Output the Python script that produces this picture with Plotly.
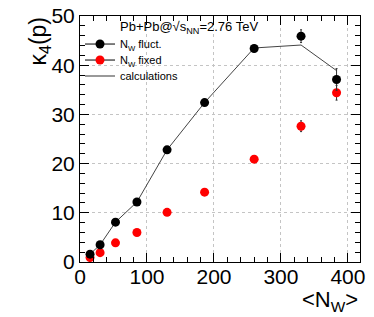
import plotly.graph_objects as go

# Data
nw = [15, 30, 53, 85, 130, 186, 260, 330, 383]
k4_fluct = [1.6, 3.5, 8.1, 12.2, 22.8, 32.4, 43.4, 45.9, 37.1]
k4_fluct_err = [0.2, 0.2, 0.2, 0.3, 0.3, 0.4, 0.7, 1.3, 2.2]
k4_fixed = [0.9, 1.9, 3.9, 6.0, 10.1, 14.2, 20.9, 27.6, 34.4]
k4_fixed_err = [0.1, 0.1, 0.1, 0.2, 0.2, 0.3, 0.4, 1.1, 1.5]
k4_calc = [1.6, 3.5, 8.1, 12.2, 22.8, 32.4, 43.5, 44.1, 38.9]

FONT = "Liberation Sans, Arial, Helvetica, sans-serif"

fig = go.Figure()

# calculations line
fig.add_trace(go.Scatter(x=nw, y=k4_calc, mode="lines",
                         line=dict(color="#444444", width=1),
                         showlegend=False, hoverinfo="skip"))
fig.add_trace(go.Scatter(x=nw, y=k4_fixed, mode="markers",
                         marker=dict(color="red", size=9),
                         error_y=dict(type="data", array=k4_fixed_err, color="#333333",
                                      thickness=1, width=1),
                         showlegend=False))
fig.add_trace(go.Scatter(x=nw, y=k4_fluct, mode="markers",
                         marker=dict(color="black", size=9),
                         error_y=dict(type="data", array=k4_fluct_err, color="#333333",
                                      thickness=1, width=1),
                         showlegend=False))

# legend entries (one legend each, for exact placement)
fig.add_trace(go.Scatter(x=[None], y=[None], mode="lines+markers",
                         marker=dict(color="black", size=9),
                         line=dict(color="black", width=1),
                         name="N<sub>W</sub> fluct.", legend="legend"))
fig.add_trace(go.Scatter(x=[None], y=[None], mode="lines+markers",
                         marker=dict(color="red", size=9),
                         line=dict(color="black", width=1),
                         name="N<sub>W</sub> fixed", legend="legend2"))
fig.add_trace(go.Scatter(x=[None], y=[None], mode="lines",
                         line=dict(color="#777777", width=1.5),
                         name="calculations", legend="legend3"))

axis_common = dict(
    showline=True, linecolor="black", linewidth=1, mirror="allticks",
    ticks="inside", ticklen=9, tickcolor="black",
    showgrid=True, gridcolor="#c4c4c4", griddash="dot", gridwidth=1,
    zeroline=False, automargin=False,
    tickfont=dict(family=FONT, size=21, color="black"),
)

fig.update_xaxes(range=[0, 418], tickvals=[0, 100, 200, 300, 400],
                 minor=dict(dtick=20, tick0=0, ticks="inside", ticklen=5,
                            tickcolor="black", showgrid=False),
                 ticklabelstandoff=-4,
                 **axis_common)
fig.update_yaxes(range=[0, 50], tickvals=[0, 10, 20, 30, 40, 50],
                 minor=dict(dtick=2, tick0=0, ticks="inside", ticklen=5,
                            tickcolor="black", showgrid=False),
                 **axis_common)

# white legend box covering grid
fig.add_shape(type="rect", xref="paper", yref="paper", x0=0, x1=0.482,
              y0=0.72, y1=1, fillcolor="white", line=dict(width=0),
              layer="between")

fig.add_annotation(text="Pb+Pb@√s<sub>NN</sub>=2.76 TeV", xref="paper", yref="paper",
                   x=0.135, y=0.955, xanchor="left", yanchor="middle",
                   showarrow=False, font=dict(family=FONT, size=13, color="black"))
fig.add_annotation(text="κ<sub>4</sub>(p)", xref="paper", yref="paper",
                   x=-0.143, y=0.900, xanchor="center", yanchor="middle", textangle=-90,
                   showarrow=False, font=dict(family=FONT, size=23, color="black"))
fig.add_annotation(text="<N<sub>W</sub>>", xref="paper", yref="paper",
                   x=1.0, y=-0.093, xanchor="right", yanchor="top",
                   showarrow=False, font=dict(family=FONT, size=22, color="black"))

leg_common = dict(x=0.0, xanchor="left", yanchor="middle",
                  bgcolor="rgba(0,0,0,0)", borderwidth=0,
                  font=dict(family=FONT, size=11, color="black"),
                  itemwidth=30)

fig.update_layout(
    width=374, height=317,
    margin=dict(l=80, r=14, t=16, b=55, autoexpand=False),
    paper_bgcolor="white", plot_bgcolor="white",
    legend=dict(y=0.886, **leg_common),
    legend2=dict(y=0.821, **leg_common),
    legend3=dict(y=0.756, **leg_common),
)

fig.write_html("out.html", config={"displayModeBar": False},
               post_script="document.body.style.margin='0';document.body.style.padding='0';")
